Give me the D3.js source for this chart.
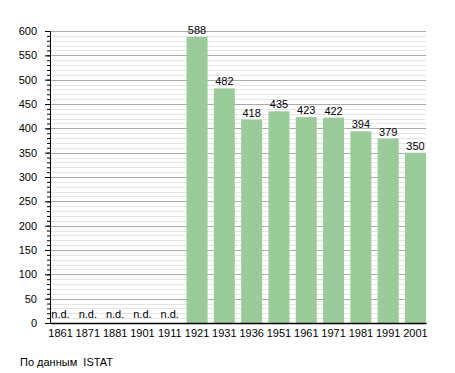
<!DOCTYPE html>
<head>
<meta charset="utf-8">
<script src="https://d3js.org/d3.v7.min.js"></script>
<style>
  body { margin: 0; background: #fff; font-family: "Liberation Sans", Arial, sans-serif; }
  svg text { font-family: "Liberation Sans", Arial, sans-serif; fill: #000; }
</style>
</head>
<body>
<div id="chart"></div>
<script>
// census years and population (null = no data)
var years = ["1861","1871","1881","1901","1911","1921","1931","1936","1951","1961","1971","1981","1991","2001"];
var population = [null, null, null, null, null, 588, 482, 418, 435, 423, 422, 394, 379, 350];
var yTicks = [0, 50, 100, 150, 200, 250, 300, 350, 400, 450, 500, 550, 600];
var missingLabel = "n.d.";
var sourceNote = "По данным  ISTAT";

var W = 455, H = 373;
var margin = {top: 31, right: 29, bottom: 50, left: 50};
var width = W - margin.left - margin.right,
    height = H - margin.top - margin.bottom;

var svg = d3.select("#chart").append("svg")
    .attr("width", W)
    .attr("height", H);

var g = svg.append("g")
    .attr("transform", "translate(" + margin.left + "," + margin.top + ")");

var x = d3.scaleBand()
    .domain(years)
    .range([0, width])
    .paddingInner(0.23)
    .paddingOuter(0);

var y = d3.scaleLinear()
    .domain([0, 600])
    .range([height, 0]);

// minor grid every 10
g.append("g")
  .selectAll("line")
  .data(d3.range(10, 600, 10).filter(function(v) { return v % 50 != 0; }))
  .enter().append("line")
    .attr("x1", 0).attr("x2", width)
    .attr("y1", function(d) { return Math.round(y(d)) + 0.5; })
    .attr("y2", function(d) { return Math.round(y(d)) + 0.5; })
    .style("stroke", "#e6e6e6");

// major grid every 50
g.append("g")
  .selectAll("line")
  .data(yTicks.filter(function(v) { return v > 0; }))
  .enter().append("line")
    .attr("x1", 0).attr("x2", width)
    .attr("y1", function(d) { return Math.round(y(d)) + 0.5; })
    .attr("y2", function(d) { return Math.round(y(d)) + 0.5; })
    .style("stroke", "#ababab");

// bars
g.append("g")
  .selectAll("rect")
  .data(years.map(function(d, i) { return {year: d, value: population[i]}; })
               .filter(function(d) { return d.value != null; }))
  .enter().append("rect")
    .attr("x", function(d) { return x(d.year); })
    .attr("y", function(d) { return y(d.value); })
    .attr("width", x.bandwidth())
    .attr("height", function(d) { return height - y(d.value); })
    .style("fill", "#99cc99");

// value labels
g.append("g")
  .selectAll("text")
  .data(years.map(function(d, i) { return {year: d, value: population[i]}; }))
  .enter().append("text")
    .attr("x", function(d) { return x(d.year) + x.bandwidth() / 2; })
    .attr("y", function(d) { return d.value == null ? y(0) - 5 : y(d.value) - 3; })
    .style("text-anchor", "middle")
    .style("font-size", "11px")
    .text(function(d) { return d.value == null ? missingLabel : d.value; });

// minor ticks on y axis
g.append("g")
  .call(d3.axisLeft(y).tickValues(d3.range(0, 601, 10)).tickSize(3).tickFormat(""))
  .call(function(a) { a.select(".domain").remove(); a.selectAll("line").style("stroke", "#000"); });

// y axis
g.append("g")
  .call(d3.axisLeft(y).tickValues(yTicks).tickSize(5).tickPadding(8))
  .call(function(a) {
    a.select(".domain").style("stroke", "#000");
    a.selectAll("text").style("font-size", "11px").style("font-family", "Liberation Sans, Arial, sans-serif");
  });

// x axis
g.append("g")
  .attr("transform", "translate(0," + height + ")")
  .call(d3.axisBottom(x).tickSize(0).tickPadding(6))
  .call(function(a) {
    a.select(".domain").style("stroke", "#000").style("stroke-width", 1.5);
    a.selectAll("text").style("font-size", "11px").style("font-family", "Liberation Sans, Arial, sans-serif");
  });

// source note
svg.append("text")
  .attr("x", 20)
  .attr("y", 366)
  .style("font-size", "11px")
  .style("white-space", "pre")
  .text(sourceNote);
</script>
</body>
